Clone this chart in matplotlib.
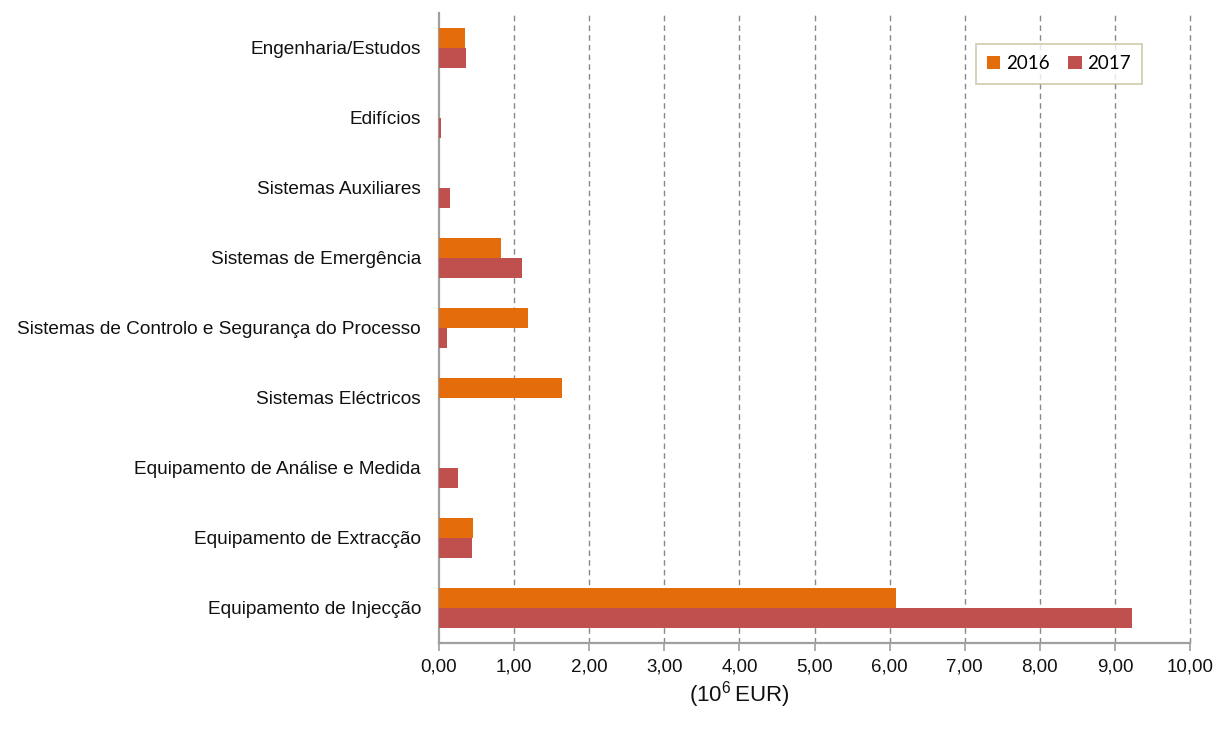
import matplotlib
matplotlib.use("Agg")
import matplotlib.pyplot as plt
import numpy as np
from matplotlib.ticker import FuncFormatter

categories = [
    "Engenharia/Estudos",
    "Edifícios",
    "Sistemas Auxiliares",
    "Sistemas de Emergência",
    "Sistemas de Controlo e Segurança do Processo",
    "Sistemas Eléctricos",
    "Equipamento de Análise e Medida",
    "Equipamento de Extracção",
    "Equipamento de Injecção",
]
values_2016 = [0.34, 0.0, 0.0, 0.82, 1.18, 1.64, 0.0, 0.45, 6.08]
values_2017 = [0.355, 0.02, 0.14, 1.11, 0.10, 0.0, 0.25, 0.44, 9.23]
series_labels = ["2016", "2017"]
x_ticks = list(range(0, 11))

color_2016 = "#E46C0A"
color_2017 = "#C0504D"
axis_gray = "#A0A0A0"

plt.rcParams["font.family"] = ["Liberation Sans", "DejaVu Sans"]
plt.rcParams["mathtext.fontset"] = "custom"
plt.rcParams["mathtext.rm"] = "Liberation Sans"

fig = plt.figure(figsize=(12.16, 7.29), dpi=100)
ax = fig.add_axes([439 / 1216, 1 - 643 / 729, (1190 - 439) / 1216, (643 - 13) / 729])

y = np.arange(len(categories))
h = 0.285
ax.barh(y - h / 2, values_2016, height=h, color=color_2016,
        linewidth=0, label=series_labels[0], zorder=3)
ax.barh(y + h / 2, values_2017, height=h, color=color_2017,
        linewidth=0, label=series_labels[1], zorder=3)

ax.set_ylim(len(categories) - 0.5, -0.5)
ax.set_xlim(0, 10)
ax.set_yticks(y)
ax.set_yticklabels(categories, fontsize=13.7, color="#111111")
ax.set_xticks(x_ticks)
ax.xaxis.set_major_formatter(FuncFormatter(lambda v, p: f"{v:.2f}".replace(".", ",")))
ax.tick_params(axis="x", labelsize=13.5, colors=axis_gray, labelcolor="#111111",
               length=6, width=1.2, direction="out", pad=5)
ax.tick_params(axis="y", length=0, pad=13)

for s in ["top", "right"]:
    ax.spines[s].set_visible(False)
for s in ["left", "bottom"]:
    ax.spines[s].set_color(axis_gray)
    ax.spines[s].set_linewidth(1.6)

ax.grid(axis="x", which="major", linestyle=(0, (4, 3)), color="#888888", linewidth=1.0, zorder=0)
ax.set_axisbelow(True)
for i, gl in enumerate(ax.get_xgridlines()):
    gl.set_clip_on(False)
    if i == 0:
        gl.set_visible(False)

leg = ax.legend(loc="upper right", bbox_to_anchor=(1142 / 1216, 1 - 44 / 729),
                bbox_transform=fig.transFigure, ncol=2, frameon=True, fancybox=False,
                prop={"family": ["Lato", "DejaVu Sans"], "size": 13.5},
                handlelength=0.7, handleheight=0.7, handletextpad=0.3,
                columnspacing=1.0, borderpad=0.6, borderaxespad=0)
leg.get_frame().set_edgecolor("#C4BD97")
leg.get_frame().set_linewidth(1.2)

fig.text(739 / 1216, 1 - 702 / 729, r"$\mathregular{(10^{6}\,EUR)}$",
         fontsize=16, ha="center", va="baseline", color="#111111")

fig.savefig("out.png", dpi=100)
